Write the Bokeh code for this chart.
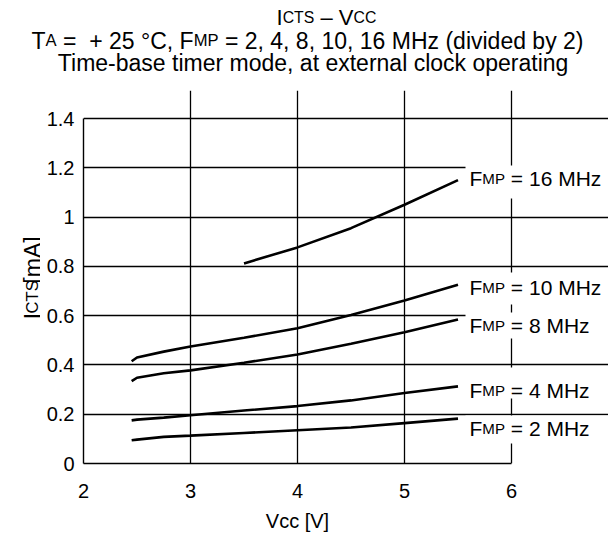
import math
from bokeh.plotting import figure
from bokeh.layouts import column, row
from bokeh.models import Label, BoxAnnotation, FixedTicker, Range1d
from bokeh.core.properties import value
from bokeh.embed import file_html
from bokeh.resources import INLINE

# ---------------- data ----------------
vcc = [2.45, 2.5, 2.75, 3.0, 3.5, 4.0, 4.5, 5.0, 5.5]
i_2mhz = [0.094, 0.097, 0.108, 0.113, 0.124, 0.135, 0.146, 0.164, 0.182]
i_4mhz = [0.175, 0.178, 0.186, 0.196, 0.215, 0.233, 0.256, 0.286, 0.313]
i_8mhz = [0.334, 0.348, 0.366, 0.378, 0.409, 0.442, 0.486, 0.533, 0.584]
i_10mhz = [0.415, 0.430, 0.454, 0.475, 0.510, 0.549, 0.603, 0.661, 0.725]
vcc_16 = [3.5, 4.0, 4.5, 5.0, 5.5]
i_16mhz = [0.812, 0.877, 0.955, 1.050, 1.150]

series_labels = ["16", "10", "8", "4", "2"]
x_ticks = [2, 3, 4, 5, 6]
y_ticks = [0, 0.2, 0.4, 0.6, 0.8, 1.0, 1.2, 1.4]
y_tick_labels = {0: "0", 0.2: "0.2", 0.4: "0.4", 0.6: "0.6", 0.8: "0.8", 1.0: "1", 1.2: "1.2", 1.4: "1.4"}

# ---------------- layout geometry (canvas px) ----------------
W, H = 608, 533
TITLE_H = 90          # title strip height
YLAB_W = 40           # y-label strip width
AX_X = 83             # x = 2 (y axis line)
X6 = 511              # x = 6
AX_Y = 463            # y = 0 (x axis line)
Y14 = 118             # y = 1.4
MAIN_BOTTOM = 505     # bottom of main figure
PX_X = (X6 - AX_X) / 4.0
PX_Y = (AX_Y - Y14) / 1.4

def X(px):
    return 2.0 + (px - AX_X) / PX_X

def Y(py):
    return (AX_Y - py) / PX_Y

FONT = "Liberation Sans"
SUB = 0.72
MET = {' ': 278, '(': 333, ')': 333, '+': 584, ',': 278, '-': 333, '.': 278, '=': 584,
       '[': 278, ']': 278, 'A': 667, 'C': 722, 'F': 611, 'H': 722, 'I': 278, 'M': 833,
       'P': 667, 'S': 667, 'T': 611, 'V': 667, 'a': 556, 'b': 556, 'c': 500, 'd': 556,
       'e': 556, 'g': 556, 'i': 222, 'k': 500, 'l': 222, 'm': 833, 'n': 556, 'o': 556,
       'p': 556, 'r': 333, 's': 500, 't': 278, 'v': 500, 'x': 500, 'y': 500, 'z': 500,
       '°': 400, '–': 556}
for d in "0123456789":
    MET[d] = 556

def tw(s, size):
    return sum(MET.get(c, 556) for c in s) * size / 1000.0

def text_fig(w, h, top, left=0):
    # data coords: x = canvas x, y = -canvas y  (normal orientation)
    f = figure(width=w, height=h, output_backend="svg", toolbar_location=None,
               x_axis_type=None, y_axis_type=None,
               x_range=Range1d(left, left + w), y_range=Range1d(-(top + h), -top),
               min_border=0, min_border_left=0, min_border_right=0,
               min_border_top=0, min_border_bottom=0)
    f.outline_line_color = None
    f.background_fill_color = "white"
    f.border_fill_color = "white"
    return f

CANVAS = (lambda v: v, lambda v: -v)

def add_text(fig, txt, x, y, fs, angle, conv):
    if angle == 0.0:
        lab = Label(x=conv[0](x), y=conv[1](y), text=txt, text_font=FONT,
                    text_font_size=f"{fs:.1f}px", text_color="black",
                    text_align="left", text_baseline="alphabetic")
        fig.add_layout(lab)
    else:
        fig.text(x=[conv[0](x)], y=[conv[1](y)], text=[txt], angle=angle,
                 text_font=value(FONT), text_font_size=value(f"{fs:.1f}px"),
                 text_color="black", text_align="left", text_baseline="alphabetic")

def rich(fig, segs, cx, base, size, align="center", vertical=False, conv=CANVAS):
    total = sum(tw(t, size * sc) for t, sc in segs)
    if vertical:
        pos = cx + total / 2
    else:
        pos = cx - total / 2 if align == "center" else cx
    for t, sc in segs:
        fs = size * sc
        lead = len(t) - len(t.lstrip(" "))
        lw = tw(" " * lead, fs)
        txt = t.strip(" ")
        if vertical:
            if txt:
                add_text(fig, txt, base, pos - lw, fs, math.pi / 2, conv)
            pos -= tw(t, fs)
        else:
            if txt:
                add_text(fig, txt, pos + lw, base, fs, 0.0, conv)
            pos += tw(t, fs)

# ---------------- main plot ----------------
main_w = W - YLAB_W
main_h = MAIN_BOTTOM - TITLE_H
p = figure(width=main_w, height=main_h, output_backend="svg", toolbar_location=None,
           x_range=Range1d(2.0, X(W)), y_range=Range1d(0.0, Y(TITLE_H)),
           min_border_left=AX_X - YLAB_W, min_border_right=0,
           min_border_top=0, min_border_bottom=MAIN_BOTTOM - AX_Y)
p.outline_line_color = None
p.background_fill_color = "white"
p.border_fill_color = "white"

for ax, tk, bd in ((p.xaxis, x_ticks, (2, 6)), (p.yaxis, y_ticks, (0, 1.4))):
    ax.ticker = FixedTicker(ticks=tk)
    ax.bounds = bd
    ax.axis_line_color = "black"
    ax.axis_line_width = 1.4
    ax.major_tick_out = 0
    ax.major_tick_in = 0
    ax.minor_tick_out = 0
    ax.minor_tick_in = 0
    ax.major_label_text_font = FONT
    ax.major_label_text_font_size = "20px"
    ax.major_label_text_color = "black"
p.yaxis.major_label_overrides = y_tick_labels
p.yaxis.major_label_standoff = 9
p.xaxis.major_label_standoff = 20

for g, tk, bd in ((p.xgrid, x_ticks, (0, 1.4)), (p.ygrid, y_ticks, (2, 6))):
    g.ticker = FixedTicker(ticks=tk)
    g.bounds = bd
    g.grid_line_color = "black"
    g.grid_line_width = 1.3
    g.grid_line_alpha = 1.0

for xs, ys in ((vcc, i_2mhz), (vcc, i_4mhz), (vcc, i_8mhz), (vcc, i_10mhz), (vcc_16, i_16mhz)):
    p.line(xs, ys, line_color="black", line_width=2.6)

# white boxes behind series labels (canvas y ranges)
boxes = [(165, 198), (272, 304), (312, 338), (367, 398), (415, 443)]
for top, bot in boxes:
    p.add_layout(BoxAnnotation(left=X(465), right=X(W + 10), top=Y(top), bottom=Y(bot),
                               fill_color="white", fill_alpha=1.0, line_alpha=0.0))

label_centers = [178, 287, 325, 390, 428]
for name, cy in zip(series_labels, label_centers):
    rich(p, [("F", 1), ("MP", SUB), (f" = {name} MHz", 1)], 469, cy, 21,
         align="left", conv=(X, Y))

# ---------------- title strip ----------------
tf = text_fig(W, TITLE_H, 0)
rich(tf, [("I", 1), ("CTS", SUB), (" – V", 1), ("CC", SUB)], 326, 17, 22)
rich(tf, [("T", 1), ("A", SUB), (" =", 1), ("  + 25 °C, F", 1), ("MP", SUB),
          (" = 2, 4, 8, 10, 16 MHz (divided by 2)", 1)], 307, 40, 23)
rich(tf, [("Time-base timer mode, at external clock operating", 1)], 313, 62, 23)

# ---------------- y label strip ----------------
yf = text_fig(YLAB_W, main_h, TITLE_H)
rich(yf, [("I", 1), ("CTS", SUB), ("[mA]", 1)], 301, 32, 23, vertical=True)

# ---------------- x label strip ----------------
xf = text_fig(W, H - MAIN_BOTTOM, MAIN_BOTTOM)
rich(xf, [("Vcc [V]", 1)], 297, 520, 20)

layout = column(tf, row(yf, p, spacing=0), xf, spacing=0)
open("out.html", "w").write(file_html(layout, INLINE))
